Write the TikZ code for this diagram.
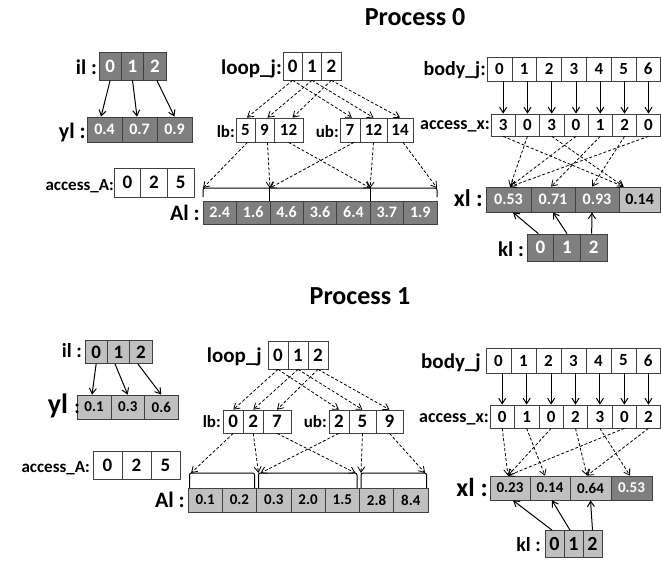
\documentclass[tikz,border=0pt]{standalone}
\usepackage{fontspec}
\setmainfont{Carlito}
\usetikzlibrary{arrows.meta}
\definecolor{dk}{RGB}{127,127,127}
\definecolor{lt}{RGB}{192,192,192}
\newcommand{\fs}[1]{\fontsize{#1}{#1}\selectfont\bfseries}
\newcommand{\mkrow}[5]{\foreach \i/\xa/\xb/\tx in {#5}{\node[#4, minimum width={\xb-\xa}, minimum height=#3] (#1\i) at ({(\xa+\xb)/2},#2) {\tx};}}
\tikzset{
  cellbase/.style={draw=black!75, line width=0.7pt, inner sep=0pt, rectangle},
  dcell/.style={cellbase, fill=dk, text=white},
  lcell/.style={cellbase, fill=lt, text=black},
  wcell/.style={cellbase, fill=white, text=black},
  lbl/.style={anchor=base east, inner sep=0pt},
  ttl/.style={anchor=base, inner sep=0pt},
  sarr/.style={-{Straight Barb[length=5.5pt,width=7pt]}, line width=1pt},
  darr/.style={-{Straight Barb[length=5.5pt,width=7pt]}, line width=0.8pt, dash pattern=on 3pt off 2pt},
  brk/.style={line width=1pt},
}
\begin{document}
\begin{tikzpicture}[x=1pt,y=-1pt]
\useasboundingbox (0,0) rectangle (661,560);
% ================= Process 0 =================
\node[ttl] (t0) at (415,25) {\fs{26}Process 0};
\mkrow{p0il}{66}{28}{dcell,font=\fs{19}}{0/99/121.3/0,1/121.3/143.7/1,2/143.7/166/2}
\mkrow{p0yl}{129.5}{25}{dcell,font=\fs{16}}{0/87/122/0.4,1/122/157/0.7,2/157/192/0.9}
\mkrow{p0aA}{182.5}{29}{wcell,font=\fs{19}}{0/114/140.7/0,1/140.7/167.3/2,2/167.3/194/5}
\mkrow{p0lj}{66}{28}{wcell,font=\fs{19}}{0/283/302.3/0,1/302.3/321.7/1,2/321.7/341/2}
\mkrow{p0lb}{130}{24}{wcell,font=\fs{17}}{0/236/255/5,1/255/274/9,2/274/303/12}
\mkrow{p0ub}{130}{24}{wcell,font=\fs{17}}{0/340/360/7,1/360/387/12,2/387/413/14}
\mkrow{p0Al}{212.5}{23}{dcell,font=\fs{16}}{0/203/236.4/2.4,1/236.4/269.9/1.6,2/269.9/303.3/4.6,3/303.3/336.7/3.6,4/336.7/370.1/6.4,5/370.1/403.6/3.7,6/403.6/437/1.9}
\mkrow{p0bj}{69}{24}{wcell,font=\fs{17}}{0/487/511.9/0,1/511.9/536.7/1,2/536.7/561.6/2,3/561.6/586.4/3,4/586.4/611.3/4,5/611.3/636.1/5,6/636.1/660.3/6}
\mkrow{p0ax}{125}{22}{wcell,font=\fs{17}}{0/491/515.3/3,1/515.3/539.6/0,2/539.6/563.9/3,3/563.9/588.1/0,4/588.1/612.4/1,5/612.4/636.7/2,6/636.7/660.3/0}
\mkrow{p0xl}{199.5}{25}{dcell,font=\fs{16}}{0/486/531/0.53,1/531/575/0.71,2/575/619/0.93}
\mkrow{p0xl}{199.5}{25}{lcell,font=\fs{16}}{3/619/660.3/0.14}
\mkrow{p0kl}{247.5}{27}{dcell,font=\fs{19}}{0/527/553.7/0,1/553.7/580.3/1,2/580.3/607/2}
% labels
\node[lbl] (p0ilL) at (97,74) {\fs{21}il :};
\node[lbl] (p0ylL) at (86,138) {\fs{22}yl :};
\node[lbl] (p0aAL) at (114,190) {\fs{17}access\_A:};
\node[lbl] (p0ljL) at (282,74) {\fs{21}loop\_j:};
\node[lbl] (p0lbL) at (235,137) {\fs{17}lb:};
\node[lbl] (p0ubL) at (339,137) {\fs{17}ub:};
\node[lbl] (p0AlL) at (200,220) {\fs{22}Al :};
\node[lbl] (p0bjL) at (486,75) {\fs{20}body\_j:};
\node[lbl] (p0axL) at (490,129) {\fs{18}access\_x:};
\node[lbl] (p0xlL) at (483,206) {\fs{24}xl :};
\node[lbl] (p0klL) at (524,256) {\fs{21}kl :};
% bracket
\coordinate (p0b0) at (203,188);
\coordinate (p0b1) at (269.9,188);
\coordinate (p0b2) at (370.1,188);
\coordinate (p0b3) at (437,188);
\draw[brk, rounded corners=2pt] ([yshift=-9]p0b0) -- (p0b0) -- (p0b3) -- ([yshift=-9]p0b3);
\draw[brk] ([yshift=2]p0b1) -- ([yshift=-13]p0b1);
\draw[brk] ([yshift=2]p0b2) -- ([yshift=-13]p0b2);
% arrows il -> yl
\draw[sarr] (p0il0.south) -- ([xshift=-3.5]p0yl0.north);
\draw[sarr] (p0il1.south) -- ([xshift=-2.5]p0yl1.north);
\draw[sarr] ([xshift=2]p0il2.south) -- (p0yl2.north);
% loop_j -> lb, ub
\draw[darr] (p0lj0.south) -- ([xshift=1.5]p0lb0.north);
\draw[darr] (p0lj0.south) -- ([xshift=2]p0ub0.north);
\draw[darr] (p0lj1.south) -- ([xshift=3]p0lb1.north);
\draw[darr] (p0lj1.south) -- (p0ub1.north);
\draw[darr] (p0lj2.south) -- ([xshift=4]p0lb2.north);
\draw[darr] (p0lj2.south) -- (p0ub2.north);
% lb, ub -> bracket
\draw[darr] ([xshift=2]p0lb0.south) -- (p0b0);
\draw[darr] ([xshift=3]p0lb1.south) -- (p0b1);
\draw[darr] (p0lb2.south) -- (p0b2);
\draw[darr] ([xshift=4]p0ub0.south) -- (p0b1);
\draw[darr] (p0ub1.south) -- (p0b2);
\draw[darr] ([xshift=3]p0ub2.south) -- (p0b3);
% body_j -> access_x
\foreach \i in {0,...,6} \draw[sarr] (p0ax\i.north |- p0bj\i.south) -- (p0ax\i.north);
% access_x -> xl
\foreach \i/\j/\s in {0/3/-16,1/0/1.5,2/3/-16,3/0/1.5,4/1/-2,5/2/-5,6/0/1.5}
  \draw[darr] (p0ax\i.south) -- ([xshift=\s]p0xl\j.north);
% kl -> xl
\draw[sarr] ([xshift=-2]p0kl0.north) -- ([xshift=4.5]p0xl0.south);
\draw[sarr] (p0kl1.north) -- (p0xl1.south);
\draw[sarr] ([xshift=-2]p0kl2.north) -- ([xshift=-5]p0xl2.south);
% ================= Process 1 =================
\node[ttl] (t1) at (360,304) {\fs{26}Process 1};
\mkrow{p1il}{352}{23}{lcell,font=\fs{19}}{0/85/107.3/0,1/107.3/129.7/1,2/129.7/152/2}
\mkrow{p1yl}{407}{24}{lcell,font=\fs{15}}{0/77/111/0.1,1/111/144.5/0.3,2/144.5/178/0.6}
\mkrow{p1aA}{465.5}{28}{wcell,font=\fs{19}}{0/93/122/0,1/122/151/2,2/151/180/5}
\mkrow{p1lj}{355}{28}{wcell,font=\fs{19}}{0/268/288/0,1/288/308/1,2/308/328/2}
\mkrow{p1lb}{421.5}{23}{wcell,font=\fs{19}}{0/223/243.5/0,1/243.5/263/2,2/263/291/7}
\mkrow{p1ub}{421.5}{23}{wcell,font=\fs{19}}{0/329/349/2,1/349/376/5,2/376/403/9}
\mkrow{p1Al}{500}{24}{lcell,font=\fs{15}}{0/188/222.3/0.1,1/222.3/256.6/0.2,2/256.6/290.9/0.3,3/290.9/325.1/2.0,4/325.1/359.4/1.5,5/359.4/393.7/2.8,6/393.7/428/8.4}
\mkrow{p1bj}{360.5}{25}{wcell,font=\fs{17}}{0/486/511/0,1/511/536/1,2/536/561/2,3/561/586/3,4/586/611/4,5/611/636/5,6/636/660.3/6}
\mkrow{p1ax}{416.5}{23}{wcell,font=\fs{17}}{0/490/514.4/0,1/514.4/538.9/1,2/538.9/563.3/0,3/563.3/587.7/2,4/587.7/612.1/3,5/612.1/636.6/0,6/636.6/660.3/2}
\mkrow{p1xl}{488}{24}{lcell,font=\fs{15}}{0/490/530/0.23,1/530/570/0.14,2/570/611/0.64}
\mkrow{p1xl}{488}{24}{dcell,font=\fs{15}}{3/611/652/0.53}
\mkrow{p1kl}{544}{27}{lcell,font=\fs{20}}{0/545/564/0,1/564/583/1,2/583/602/2}
% labels
\node[lbl] (p1ilL) at (82,357) {\fs{20}il :};
\node[lbl] (p1ylL) at (80,413) {\fs{28}yl {\fs{20}:}};
\node[lbl] (p1aAL) at (90,472) {\fs{17}access\_A:};
\node[lbl] (p1ljL) at (262,362) {\fs{21}loop\_j};
\node[lbl] (p1lbL) at (221,427) {\fs{17}lb:};
\node[lbl] (p1ubL) at (327,427) {\fs{17}ub:};
\node[lbl] (p1AlL) at (185,507) {\fs{22}Al :};
\node[lbl] (p1bjL) at (481,368) {\fs{21}body\_j};
\node[lbl] (p1axL) at (489,422) {\fs{18}access\_x:};
\node[lbl] (p1xlL) at (488,496) {\fs{26}xl :};
\node[lbl] (p1klL) at (541,551) {\fs{20}kl :};
% brackets
\coordinate (p1b1l) at (189.5,473);
\coordinate (p1b1r) at (254.5,473);
\coordinate (p1b2l) at (258.5,473);
\coordinate (p1b2r) at (357,473);
\coordinate (p1b3l) at (361,473);
\coordinate (p1b3r) at (426.5,473);
\draw[brk, rounded corners=2pt] ([yshift=-15]p1b1l) -- (p1b1l) -- (p1b1r) -- ([yshift=-15]p1b1r);
\draw[brk, rounded corners=2pt] ([yshift=-15]p1b2l) -- (p1b2l) -- (p1b2r) -- ([yshift=-15]p1b2r);
\draw[brk, rounded corners=2pt] ([yshift=-15]p1b3l) -- (p1b3l) -- (p1b3r) -- ([yshift=-15]p1b3r);
% il -> yl
\draw[sarr] (p1il0.south) -- ([xshift=-2]p1yl0.north);
\draw[sarr] ([xshift=-3.5]p1il1.south) -- (p1yl1.north);
\draw[sarr] ([xshift=-3]p1il2.south) -- (p1yl2.north);
% loop_j -> lb, ub
\draw[darr] (p1lj0.south) -- (p1lb0.north);
\draw[darr] (p1lj0.south) -- (p1ub0.north);
\draw[darr] (p1lj1.south) -- (p1lb1.north);
\draw[darr] (p1lj1.south) -- (p1ub1.north);
\draw[darr] (p1lj2.south) -- (p1lb2.north);
\draw[darr] (p1lj2.south) -- (p1ub2.north);
% lb, ub -> brackets
\draw[darr] (p1lb0.south) -- ([xshift=1.5]p1b1l);
\draw[darr] (p1lb1.south) -- (p1b2l);
\draw[darr] (p1lb2.south) -- ([xshift=-1.5]p1b2r);
\draw[darr] (p1ub0.south) -- ([xshift=2]p1b2l);
\draw[darr] (p1ub1.south) -- (p1b3l);
\draw[darr] (p1ub2.south) -- ([xshift=-1.5]p1b3r);
% body_j -> access_x
\foreach \i in {0,...,6} \draw[sarr] (p1ax\i.north |- p1bj\i.south) -- (p1ax\i.north);
% access_x -> xl
\foreach \i/\j/\s in {0/0/-2,1/1/-5,2/0/-2,3/2/-3.5,4/3/-1.5,5/0/-2,6/2/-3.5}
  \draw[darr] (p1ax\i.south) -- ([xshift=\s]p1xl\j.north);
% kl -> xl
\draw[sarr] ([xshift=-2.5]p1kl0.north) -- ([xshift=3]p1xl0.south);
\draw[sarr] ([xshift=-3.5]p1kl1.north) -- ([xshift=2]p1xl1.south);
\draw[sarr] (p1kl2.north) -- (p1xl2.south);
\end{tikzpicture}
\end{document}
